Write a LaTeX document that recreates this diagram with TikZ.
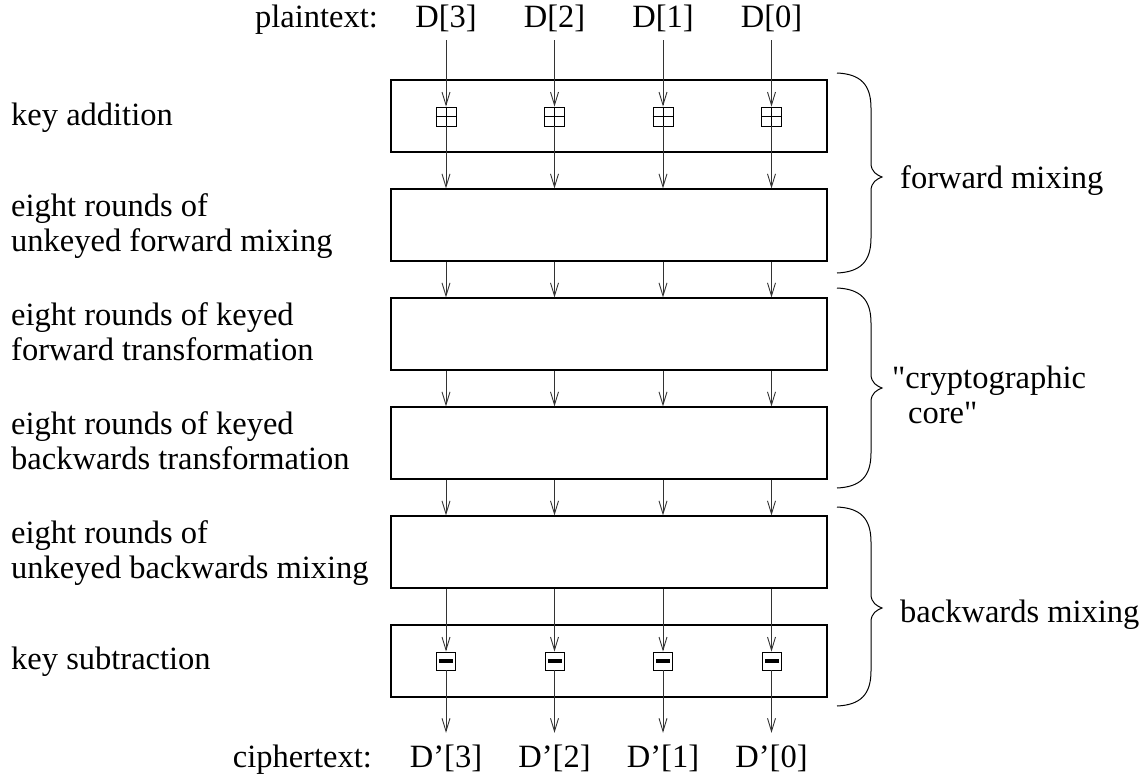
\documentclass[tikz,border=0pt]{standalone}
\usepackage{fontspec}
% plain family: keeps the straight double quote as typed
\newfontfamily\figfont{Liberation Serif}
\usetikzlibrary{arrows.meta}

% curly brace on the right: top end, tip, bottom end (y grows downwards)
\newcommand\drawbrace[3]{%
  \draw[bracepath] (837,#1) .. controls (860,#1+1) and (871,#1+11) .. (871,#1+35)
    -- (871,#2-14) .. controls (871,#2-5) and (877,#2-2) .. (882,#2)
    .. controls (877,#2+2) and (871,#2+5) .. (871,#2+14)
    -- (871,#3-35) .. controls (871,#3-11) and (860,#3-1) .. (837,#3);}

\begin{document}
\begin{tikzpicture}[x=1pt,y=-1pt,
  lbl/.style={font=\figfont\fontsize{32.5}{35}\selectfont, inner sep=0pt, align=left},
  word/.style={font=\figfont\fontsize{32.5}{35}\selectfont, inner xsep=0pt,
               text height=22pt, text depth=7pt},
  stage/.style={draw, line width=1.2pt, minimum width=436pt, minimum height=72pt, inner sep=0pt},
  opbox/.style={draw, line width=0.9pt, minimum width=20pt, minimum height=19pt, inner sep=0pt},
  flow/.style={line width=0.9pt, draw=black!80, -{Straight Barb[length=13pt,width=8pt]}},
  bracepath/.style={line width=1pt}
]
\useasboundingbox (0,0) rectangle (1141,776);

% the six stages
\node[stage] (s1) at (609,116) {};
\node[stage] (s2) at (609,225) {};
\node[stage] (s3) at (609,334) {};
\node[stage] (s4) at (609,443) {};
\node[stage] (s5) at (609,552) {};
\node[stage] (s6) at (609,661) {};

% stage descriptions (base = baseline of the last line)
\node[lbl, anchor=base west] (l1) at (11,125) {key addition};
\node[lbl, anchor=base west] (l2) at (11,251) {eight rounds of\\unkeyed forward mixing};
\node[lbl, anchor=base west] (l3) at (11,360) {eight rounds of keyed\\forward transformation};
\node[lbl, anchor=base west] (l4) at (11,469) {eight rounds of keyed\\backwards transformation};
\node[lbl, anchor=base west] (l5) at (11,578) {eight rounds of\\unkeyed backwards mixing};
\node[lbl, anchor=base west] (l6) at (11,669) {key subtraction};

% input / output captions
\node[word, anchor=base east, inner ysep=5pt] (pt) at (378,28) {plaintext:};
\node[word, anchor=base east, inner ysep=12pt] (ct) at (372,767) {ciphertext:};

% the four data words
\foreach \i/\x in {3/446, 2/554.5, 1/663, 0/771.5} {
  \node[word, anchor=base, inner ysep=5pt] (t\i) at (\x,28) {D[\i]};
  \node[word, anchor=base, inner ysep=12pt] (b\i) at (\x,767) {D’[\i]};
  % key addition / subtraction operators
  \node[opbox] (p\i) at (\x,116.5) {};
  \draw[line width=0.8pt] (p\i.north) -- (p\i.south) (p\i.west) -- (p\i.east);
  \node[opbox, minimum width=19pt, minimum height=18pt] (m\i) at (\x,661) {};
  \fill (m\i.center) ++(-7,-2) rectangle ++(14,4);
  % data flow
  \draw[flow] (t\i.south) -- (p\i.north);
  \draw[flow] (p\i.south) -- (p\i |- s2.north);
  \draw[flow] (p\i |- s2.south) -- (p\i |- s3.north);
  \draw[flow] (p\i |- s3.south) -- (p\i |- s4.north);
  \draw[flow] (p\i |- s4.south) -- (p\i |- s5.north);
  \draw[flow] (p\i |- s5.south) -- (m\i.north);
  \draw[flow] (m\i.south) -- (b\i.north);
}

% grouping braces
\drawbrace{73}{177}{273}
\drawbrace{288}{388}{488}
\drawbrace{507}{608}{706}

\node[lbl, anchor=base west] (g1) at (900,188) {forward mixing};
\node[lbl, anchor=base west] (g2) at (892,423) {"cryptographic\\\hspace*{16pt}core"};
\node[lbl, anchor=base west] (g3) at (900,622) {backwards mixing};
\end{tikzpicture}
\end{document}
